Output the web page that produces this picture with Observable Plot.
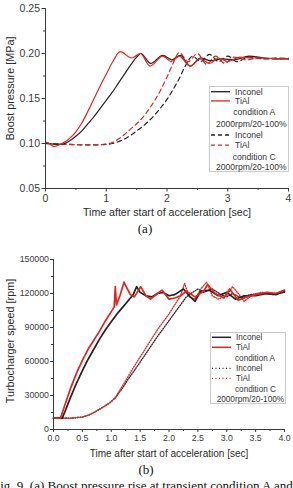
<!DOCTYPE html>
<html>
<head>
<meta charset="utf-8">
<script src="https://cdn.jsdelivr.net/npm/d3@7"></script>
<script src="https://cdn.jsdelivr.net/npm/@observablehq/plot@0.6"></script>
<style>
  body { margin: 0; background: #fff; width: 293px; height: 488px; overflow: hidden; position: relative; }
  .panel { position: absolute; left: 0; }
  .legend { position: absolute; left: 0; top: 0; pointer-events: none; }
  .cap { position: absolute; font-family: "Liberation Serif", "Times New Roman", serif; font-size: 13px; line-height: 13px; color: #111; white-space: nowrap; }
</style>
</head>
<body>
<div id="panelA" class="panel" style="top:0"></div>
<div id="panelB" class="panel" style="top:240px"></div>
<div class="cap" style="left:0;width:290px;text-align:center;top:222px">(a)</div>
<div class="cap" style="left:0;width:292px;text-align:center;top:463px">(b)</div>
<div class="cap" style="left:-7px;top:479px">Fig. 9. (a) Boost pressure rise at transient condition A and C</div>
<script>
// ---- (a) boost pressure [MPa] vs time [s] ----
const tBoostIncA = [0, 0.1, 0.2, 0.3, 0.4, 0.5, 0.6, 0.7, 0.8, 0.9, 1.0, 1.1, 1.2, 1.3, 1.4, 1.5, 1.57, 1.73, 1.93, 2.08, 2.22, 2.38, 2.55, 2.72, 2.9, 3.1, 3.35, 3.6, 3.8, 4.0];
const boostIncA  = [0.100, 0.0995, 0.099, 0.0995, 0.103, 0.108, 0.114, 0.122, 0.130, 0.139, 0.148, 0.157, 0.167, 0.177, 0.187, 0.196, 0.200, 0.189, 0.198, 0.193, 0.198, 0.186, 0.195, 0.192, 0.194, 0.193, 0.197, 0.195, 0.194, 0.194];

const tBoostTiA = [0, 0.05, 0.14, 0.25, 0.3, 0.4, 0.5, 0.6, 0.7, 0.8, 0.9, 1.0, 1.1, 1.23, 1.42, 1.56, 1.72, 1.93, 2.07, 2.2, 2.38, 2.55, 2.7, 2.85, 3.0, 3.2, 3.4, 3.6, 3.8, 4.0];
const boostTiA  = [0.1015, 0.1005, 0.0965, 0.0995, 0.101, 0.106, 0.113, 0.123, 0.136, 0.150, 0.164, 0.177, 0.190, 0.202, 0.195, 0.200, 0.186, 0.197, 0.191, 0.197, 0.186, 0.194, 0.189, 0.195, 0.191, 0.196, 0.195, 0.195, 0.194, 0.194];

const tBoostIncC = [0, 0.2, 0.4, 0.6, 0.8, 1.0, 1.1, 1.2, 1.3, 1.4, 1.5, 1.6, 1.7, 1.8, 1.9, 2.0, 2.1, 2.2, 2.3, 2.42, 2.55, 2.7, 2.85, 3.0, 3.15, 3.35, 3.6, 3.8, 4.0];
const boostIncC  = [0.100, 0.0995, 0.099, 0.0985, 0.0985, 0.099, 0.100, 0.102, 0.105, 0.109, 0.114, 0.119, 0.125, 0.132, 0.140, 0.149, 0.160, 0.172, 0.186, 0.197, 0.191, 0.199, 0.191, 0.197, 0.191, 0.196, 0.194, 0.195, 0.194];

const tBoostTiC = [0, 0.2, 0.4, 0.6, 0.8, 1.0, 1.1, 1.2, 1.3, 1.4, 1.5, 1.6, 1.7, 1.8, 1.9, 2.0, 2.1, 2.2, 2.35, 2.5, 2.65, 2.8, 2.95, 3.1, 3.3, 3.5, 3.7, 4.0];
const boostTiC  = [0.100, 0.0995, 0.099, 0.0985, 0.0985, 0.0995, 0.101, 0.105, 0.110, 0.116, 0.122, 0.129, 0.138, 0.148, 0.160, 0.174, 0.189, 0.201, 0.191, 0.200, 0.188, 0.197, 0.189, 0.196, 0.193, 0.195, 0.194, 0.195];

// ---- (b) turbocharger speed [rpm] vs time [s] ----
const tSpeedIncA = [0, 0.15, 0.2, 0.3, 0.4, 0.5, 0.6, 0.7, 0.8, 0.9, 1.0, 1.1, 1.2, 1.3, 1.38, 1.44, 1.5, 1.6, 1.7, 1.8, 1.9, 2.0, 2.1, 2.25, 2.35, 2.45, 2.55, 2.7, 2.85, 3.0, 3.15, 3.3, 3.5, 3.7, 3.85, 4.0];
const speedIncA  = [10000, 10000, 16000, 29000, 41000, 52000, 62000, 71000, 80000, 88000, 95000, 102000, 108000, 114000, 119000, 126000, 121000, 118000, 117000, 120000, 121000, 118000, 119000, 124000, 118000, 113000, 122000, 123000, 118000, 121000, 115000, 118000, 118000, 120000, 119000, 122000];

const tSpeedTiA = [0, 0.12, 0.2, 0.3, 0.4, 0.5, 0.6, 0.7, 0.8, 0.9, 1.0, 1.05, 1.07, 1.09, 1.15, 1.22, 1.33, 1.4, 1.51, 1.6, 1.68, 1.8, 1.88, 2.0, 2.1, 2.2, 2.3, 2.45, 2.6, 2.67, 2.8, 2.95, 3.05, 3.2, 3.35, 3.5, 3.7, 3.85, 4.0];
const speedTiA  = [10000, 10000, 22000, 37000, 50000, 61000, 71000, 79000, 87000, 96000, 104000, 108000, 126000, 110000, 118000, 130000, 119000, 117000, 126000, 118000, 115000, 120000, 123000, 115000, 116000, 118000, 122000, 117000, 122000, 128000, 120000, 116000, 124000, 114000, 117000, 119000, 121000, 120000, 123000];

const tSpeedIncC = [0, 0.3, 0.5, 0.6, 0.7, 0.8, 0.9, 1.0, 1.08, 1.2, 1.3, 1.4, 1.5, 1.6, 1.7, 1.8, 1.9, 2.0, 2.1, 2.2, 2.3, 2.38, 2.5, 2.6, 2.75, 2.9, 3.0, 3.1, 3.25, 3.4, 3.6, 3.8, 4.0];
const speedIncC  = [10000, 10000, 11000, 12500, 15000, 18000, 21000, 24500, 28500, 37000, 45000, 52000, 59500, 67000, 74500, 82000, 89000, 96000, 103000, 110000, 117000, 120000, 124000, 121000, 124000, 119000, 117000, 120000, 116000, 119000, 120000, 119000, 121000];

const tSpeedTiC = [0, 0.3, 0.5, 0.6, 0.7, 0.8, 0.9, 1.0, 1.08, 1.2, 1.3, 1.4, 1.5, 1.6, 1.7, 1.8, 1.9, 2.0, 2.1, 2.2, 2.27, 2.35, 2.45, 2.55, 2.65, 2.75, 2.85, 3.0, 3.1, 3.2, 3.3, 3.45, 3.6, 3.8, 4.0];
const speedTiC  = [10000, 10000, 11000, 12500, 15000, 18000, 21000, 24500, 29000, 39000, 47500, 56000, 64000, 72000, 80000, 88000, 95000, 102000, 110000, 118000, 129000, 117000, 115000, 124000, 130000, 118000, 115000, 118000, 126000, 120000, 113000, 119000, 121000, 120000, 122000];

// ---- axis ticks and labels ----
const boostTicks = [0.05, 0.10, 0.15, 0.20, 0.25];
const boostMinor = [0.075, 0.125, 0.175, 0.225];
const boostTimeTicks = [0, 1, 2, 3, 4];
const boostTimeMinor = [0.5, 1.5, 2.5, 3.5];
const speedTicks = [0, 30000, 60000, 90000, 120000, 150000];
const speedMinor = [15000, 45000, 75000, 105000, 135000];
const speedTimeTicks = [0, 0.5, 1.0, 1.5, 2.0, 2.5, 3.0, 3.5, 4.0];
const speedTimeMinor = [0.25, 0.75, 1.25, 1.75, 2.25, 2.75, 3.25, 3.75];

const timeTitle = "Time after start of acceleration [sec]";
const boostTitle = "Boost pressure [MPa]";
const speedTitle = "Turbocharger speed [rpm]";

const legendA = ["Inconel", "TiAl", "condition A", "2000rpm/20-100%", "Inconel", "TiAl", "condition C", "2000rpm/20-100%"];
const legendB = ["Inconel", "TiAl", "condition A", "Inconel", "TiAl", "condition C", "2000rpm/20-100%"];

const RED = "#e3231f";
const BLACK = "#222";
const AXIS = "#3a3a3a";
const FONT = "'Liberation Sans', Arial, Helvetica, sans-serif";

const rows = (t, v) => t.map((x, i) => ({t: x, v: v[i]}));

// axis titles are centred on an offset from the frame edge
const xTitle = (txt, dy, size) => Plot.text([txt], {text: d => d, frameAnchor: "bottom", dy, fontSize: size, textAnchor: "middle", lineAnchor: "middle", fill: "#2a2a2a"});
const yTitle = (txt, dx, dy, size) => Plot.text([txt], {text: d => d, frameAnchor: "left", rotate: -90, dx, dy, fontSize: size, textAnchor: "middle", lineAnchor: "middle", fill: "#2a2a2a"});

// ---------- panel (a) ----------
const plotA = Plot.plot({
  width: 293,
  height: 222,
  marginTop: 8,
  marginLeft: 45,
  marginRight: 5,
  marginBottom: 34,
  style: {fontFamily: FONT, fontSize: "10.5px", color: AXIS, background: "transparent"},
  x: {domain: [0, 4]},
  y: {domain: [0.05, 0.25]},
  marks: [
    Plot.line(rows(tBoostIncC, boostIncC), {x: "t", y: "v", stroke: BLACK, strokeWidth: 1.2, strokeDasharray: "4.5,3.5", curve: "monotone-x"}),
    Plot.line(rows(tBoostTiC, boostTiC), {x: "t", y: "v", stroke: RED, strokeWidth: 1.2, strokeDasharray: "4.5,3.5", curve: "monotone-x"}),
    Plot.line(rows(tBoostIncA, boostIncA), {x: "t", y: "v", stroke: BLACK, strokeWidth: 1.2, curve: "monotone-x"}),
    Plot.line(rows(tBoostTiA, boostTiA), {x: "t", y: "v", stroke: RED, strokeWidth: 1.2, curve: "monotone-x"}),
    Plot.ruleX([0], {stroke: AXIS}),
    Plot.ruleY([0.05], {stroke: AXIS}),
    Plot.axisY({ticks: boostTicks, tickSize: 3.5, tickPadding: 2, tickFormat: d3.format(".2f"), label: null, color: AXIS}),
    Plot.axisY({ticks: boostMinor, tickSize: 2, tickFormat: () => "", label: null, color: AXIS}),
    Plot.axisX({ticks: boostTimeTicks, tickSize: 3.5, tickPadding: 3, tickFormat: d3.format("d"), label: null, color: AXIS}),
    Plot.axisX({ticks: boostTimeMinor, tickSize: 2, tickFormat: () => "", label: null, color: AXIS}),
    xTitle(timeTitle, 24, 10.6),
    yTitle(boostTitle, -35, -10, 10.8)
  ]
});
document.getElementById("panelA").appendChild(plotA);

// ---------- panel (b) ----------
const plotB = Plot.plot({
  width: 293,
  height: 222,
  marginTop: 19,
  marginLeft: 53,
  marginRight: 9,
  marginBottom: 33,
  style: {fontFamily: FONT, fontSize: "8.8px", color: AXIS, background: "transparent"},
  x: {domain: [0, 4]},
  y: {domain: [0, 150000]},
  marks: [
    Plot.line(rows(tSpeedIncC, speedIncC), {x: "t", y: "v", stroke: BLACK, strokeWidth: 1.3, strokeDasharray: "1,1.4"}),
    Plot.line(rows(tSpeedTiC, speedTiC), {x: "t", y: "v", stroke: RED, strokeWidth: 1.3, strokeDasharray: "1,1.4"}),
    Plot.line(rows(tSpeedIncA, speedIncA), {x: "t", y: "v", stroke: BLACK, strokeWidth: 1.7}),
    Plot.line(rows(tSpeedTiA, speedTiA), {x: "t", y: "v", stroke: RED, strokeWidth: 1.7}),
    Plot.ruleX([0], {stroke: AXIS}),
    Plot.ruleY([0], {stroke: AXIS}),
    Plot.axisY({ticks: speedTicks, tickSize: 3, tickPadding: 1.5, tickFormat: d3.format("d"), label: null, color: AXIS}),
    Plot.axisY({ticks: speedMinor, tickSize: 2, tickFormat: () => "", label: null, color: AXIS}),
    Plot.axisX({ticks: speedTimeTicks, tickSize: 3, tickPadding: 2, tickFormat: d3.format(".1f"), label: null, color: AXIS}),
    Plot.axisX({ticks: speedTimeMinor, tickSize: 2, tickFormat: () => "", label: null, color: AXIS}),
    xTitle(timeTitle, 24, 10),
    yTitle(speedTitle, -43, -3.5, 10.8)
  ]
});
document.getElementById("panelB").appendChild(plotB);

// ---------- legends ----------
function drawLegend(box, entries, fontSize) {
  const svg = d3.create("svg")
    .attr("class", "legend")
    .attr("width", 293).attr("height", 488)
    .style("position", "absolute").style("left", "0px").style("top", "0px");
  svg.append("rect")
    .attr("x", box.x0 + 0.5).attr("y", box.y0 + 0.5)
    .attr("width", box.x1 - box.x0).attr("height", box.y1 - box.y0)
    .attr("fill", "#fff").attr("stroke", "#c9c9c9");
  for (const e of entries) {
    if (e.stroke) {
      svg.append("line")
        .attr("x1", box.x0 + 2).attr("x2", box.x0 + 21)
        .attr("y1", e.y).attr("y2", e.y)
        .attr("stroke", e.stroke).attr("stroke-width", e.width)
        .attr("stroke-dasharray", e.dash || null);
    }
    svg.append("text")
      .attr("x", e.x).attr("y", e.y).attr("dy", "0.35em")
      .attr("font-family", FONT).attr("font-size", fontSize)
      .attr("fill", "#333")
      .text(e.label);
  }
  document.body.appendChild(svg.node());
}

drawLegend({x0: 209, y0: 86, x1: 288, y1: 171}, [
  {label: legendA[0], x: 235, y: 91.7, stroke: BLACK, width: 1.3},
  {label: legendA[1], x: 235, y: 100.9, stroke: RED, width: 1.3},
  {label: legendA[2], x: 233.3, y: 112.3},
  {label: legendA[3], x: 216, y: 124},
  {label: legendA[4], x: 235, y: 135, stroke: BLACK, width: 1.3, dash: "4,3"},
  {label: legendA[5], x: 235, y: 145.2, stroke: RED, width: 1.3, dash: "4,3"},
  {label: legendA[6], x: 232.7, y: 156.7},
  {label: legendA[7], x: 216, y: 167.3}
], 8.6);

drawLegend({x0: 210, y0: 332, x1: 285, y1: 403}, [
  {label: legendB[0], x: 236, y: 337.3, stroke: BLACK, width: 1.5},
  {label: legendB[1], x: 236, y: 347.3, stroke: RED, width: 1.5},
  {label: legendB[2], x: 235, y: 357.7},
  {label: legendB[3], x: 236, y: 368.3, stroke: BLACK, width: 1.2, dash: "1,2.5"},
  {label: legendB[4], x: 236, y: 378.3, stroke: RED, width: 1.2, dash: "1,2.5"},
  {label: legendB[5], x: 235, y: 389.3},
  {label: legendB[6], x: 216.7, y: 399}
], 8.2);
</script>
</body>
</html>
